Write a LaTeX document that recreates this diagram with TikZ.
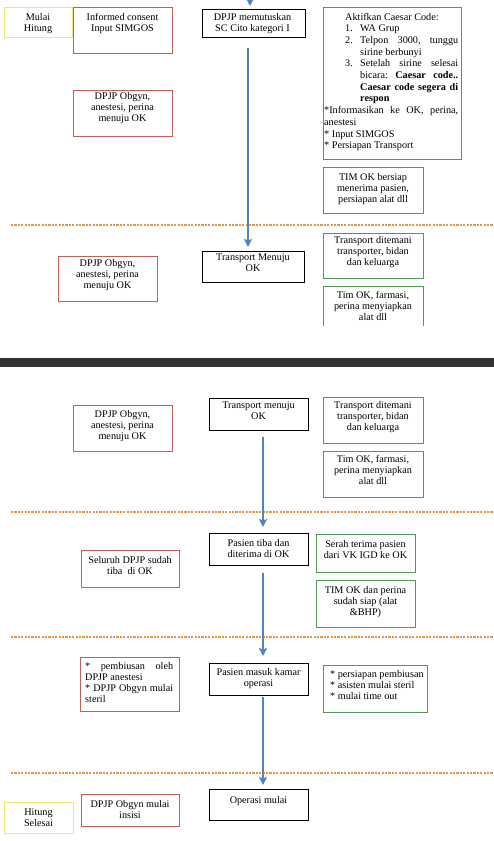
\documentclass[tikz,border=0pt]{standalone}
\usepackage{fontspec}
\setmainfont{Liberation Serif}
\usetikzlibrary{arrows.meta,calc}
\definecolor{redb}{RGB}{205,90,85}
\definecolor{greenb}{RGB}{80,155,80}
\definecolor{yelb}{RGB}{240,234,110}
\definecolor{arrc}{RGB}{84,130,190}
\definecolor{dashc}{RGB}{230,150,70}
\definecolor{bandc}{RGB}{50,50,50}
\newcommand\mkbox[6]{\node[#2, minimum width={#5pt-#3pt}, minimum height={#6pt-#4pt}] (#1) at ({(#3+#5)/2},{(#4+#6)/2}) {};}
\begin{document}
\begin{tikzpicture}[x=1pt,y=-1pt,
  bx/.style={draw, line width=1pt, inner sep=0pt, outer sep=0pt},
  redbox/.style={bx, draw=redb},
  greenbox/.style={bx, draw=greenb},
  blackbox/.style={bx, draw=black},
  yellowbox/.style={bx, draw=yelb},
  txt/.style={inner sep=0pt, anchor=north, align=center, font=\fontsize{10.2}{11}\selectfont},
  ltxt/.style={inner sep=0pt, anchor=north west, align=left, font=\fontsize{10.2}{11}\selectfont},
  arr/.style={draw=arrc, line width=2pt, -{Stealth[length=8pt,width=8pt,inset=1.5pt]}},
  sep/.style={draw=dashc, line width=1.6pt, dash pattern=on 2.2pt off 1.2pt},
]
\useasboundingbox (0,0) rectangle (494,841);
\fill[white] (0,0) rectangle (494,841);

% ---------- top section ----------
\mkbox{mulai}{yellowbox}{4}{7}{72}{37}
\node[txt] (mulait) at (38,13) {Mulai\\Hitung};
\mkbox{ic}{redbox}{73}{7}{172}{53}
\node[txt] (ict) at (122.5,13) {Informed consent\\Input SIMGOS};
\mkbox{dm}{blackbox}{202}{9}{305}{37}
\node[txt] (dmt) at (252.5,13.3) {DPJP memutuskan\\SC Cito kategori I};

\mkbox{cz}{greenbox}{323}{7}{461}{159}
\node[ltxt] (czt) at (324,12.7) {\parbox[t]{134pt}{\baselineskip=11.7pt
\hbox to134pt{\hskip21pt Aktifkan Caesar Code:\hss}
\hbox to134pt{\hskip21pt\hbox to15pt{1.\hss}WA Grup\hss}
\hbox to134pt{\hskip21pt\hbox to15pt{2.\hss}\hbox to98pt{Telpon\hfil 3000,\hfil tunggu}}
\hbox to134pt{\hskip36pt sirine berbunyi\hss}
\hbox to134pt{\hskip21pt\hbox to15pt{3.\hss}\hbox to98pt{Setelah\hfil sirine\hfil selesai}}
\hbox to134pt{\hskip36pt\hbox to98pt{bicara:\hfil\textbf{Caesar}\hfil\textbf{code..}}}
\hbox to134pt{\hskip36pt\hbox to98pt{\bfseries Caesar\hfil code\hfil segera\hfil di}}
\hbox to134pt{\hskip36pt\textbf{respon}\hss}
\hbox to134pt{*Informasikan\hfil ke\hfil OK,\hfil perina,}
\hbox to134pt{anestesi\hss}
\hbox to134pt{* Input SIMGOS\hss}
\hbox to134pt{* Persiapan Transport\hss}}};

\mkbox{ob1}{redbox}{73}{90}{172}{136}
\node[txt] (ob1t) at (122.5,92.5) {DPJP Obgyn,\\anestesi, perina\\menuju OK};
\mkbox{tim1}{greenbox}{323}{167}{423}{213}
\node[txt] (tim1t) at (373,173.3) {TIM OK bersiap\\menerima pasien,\\persiapan alat dll};

\draw[sep] (11,225) -- (494,225);

\mkbox{tr1}{greenbox}{323}{233}{423}{278}
\node[txt] (tr1t) at (373,236.7) {Transport ditemani\\transporter, bidan\\dan keluarga};
\node[inner sep=0pt, outer sep=0pt, minimum width=100pt, minimum height=40pt] (far1) at (373,306) {};
\draw[greenb, line width=1pt] (far1.south west) |- (far1.north east) -- (far1.south east);
\node[txt] (far1t) at (373,290.7) {Tim OK, farmasi,\\perina menyiapkan\\alat dll};
\mkbox{ob2}{redbox}{58}{256}{157}{301}
\node[txt] (ob2t) at (107.5,259.3) {DPJP Obgyn,\\anestesi, perina\\menuju OK};
\mkbox{tm1}{blackbox}{202}{251}{304}{282}
\node[txt] (tm1t) at (253,253.3) {Transport Menuju\\OK};

% arrows top
\coordinate (a0) at (250,-4);
\draw[arr, shorten >=3pt] (a0) -- (a0 |- dm.north);
\coordinate (a1) at (248,48);
\draw[arr, shorten >=4pt] (a1) -- (a1 |- tm1.north);

% ---------- band ----------
\fill[bandc] (0,358) rectangle (494,367);

% ---------- bottom section ----------
\mkbox{ob3}{redbox}{73}{405}{172}{451}
\node[txt] (ob3t) at (122.5,410) {DPJP Obgyn,\\anestesi, perina\\menuju OK};
\mkbox{tm2}{blackbox}{209}{398}{308}{430}
\node[txt] (tm2t) at (258.5,401.7) {Transport menuju\\OK};
\mkbox{tr2}{greenbox}{323}{397}{423}{443}
\node[txt] (tr2t) at (373,401.7) {Transport ditemani\\transporter, bidan\\dan keluarga};
\mkbox{far2}{greenbox}{323}{451}{423}{497}
\node[txt] (far2t) at (373,455) {Tim OK, farmasi,\\perina menyiapkan\\alat dll};

\draw[sep] (11,512) -- (494,512);

\mkbox{pt}{blackbox}{209}{533}{308}{565}
\node[txt] (ptt) at (258.5,539.3) {Pasien tiba dan\\diterima di OK};
\mkbox{sel}{redbox}{81}{550}{179}{587}
\node[txt] (selt) at (130,556) {Seluruh DPJP sudah\\tiba\ \ di OK};
\mkbox{st}{greenbox}{316}{534}{415}{572}
\node[txt] (stt) at (365.5,540) {Serah terima pasien\\dari VK IGD ke OK};
\mkbox{tok}{greenbox}{316}{580}{415}{627}
\node[txt] (tokt) at (365.5,586) {TIM OK dan perina\\sudah siap (alat\\\&BHP)};

\draw[sep] (11,637) -- (494,637);

\mkbox{pm}{blackbox}{209}{663}{308}{695}
\node[txt] (pmt) at (258.5,668.3) {Pasien masuk kamar\\operasi};
\mkbox{pemb}{redbox}{80}{657}{179}{711}
\node[ltxt] (pembt) at (85,662.7) {\parbox[t]{88pt}{\baselineskip=11pt
\hbox to88pt{*\hfil pembiusan\hfil oleh}
\hbox to88pt{DPJP anestesi\hss}
\hbox to88pt{*\hfil DPJP\hfil Obgyn\hfil mulai}
\hbox to88pt{steril\hss}}};
\mkbox{pers}{greenbox}{323}{665}{427}{712}
\node[ltxt] (perst) at (330,670.7) {* persiapan pembiusan\\* asisten mulai steril\\* mulai time out};

\draw[sep] (11,773) -- (494,773);

\mkbox{om}{blackbox}{209}{789}{308}{820}
\node[txt] (omt) at (258.5,796) {Operasi mulai};
\mkbox{ins}{redbox}{81}{794}{179}{826}
\node[txt] (inst) at (130,800) {DPJP Obgyn mulai\\insisi};
\mkbox{hs}{yellowbox}{4}{802}{73}{833}
\node[txt] (hst) at (38.5,808.3) {Hitung\\Selesai};

% arrows bottom
\coordinate (ax) at (263,0);
\draw[arr, shorten <=7pt, shorten >=6pt] (tm2.south -| ax) -- (pt.north -| ax);
\draw[arr, shorten <=8pt, shorten >=7pt] (pt.south -| ax) -- (pm.north -| ax);
\draw[arr, shorten <=2pt, shorten >=4pt] (pm.south -| ax) -- (om.north -| ax);
\end{tikzpicture}
\end{document}
